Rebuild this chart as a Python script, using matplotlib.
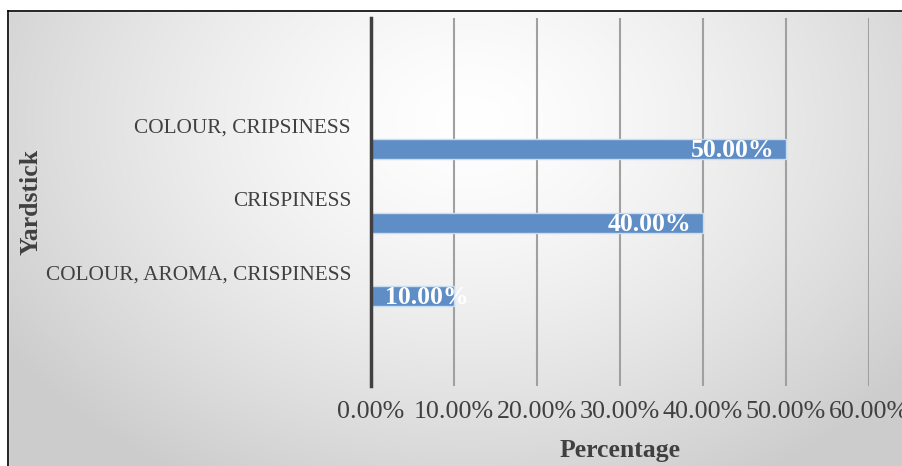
import numpy as np
import matplotlib
matplotlib.use("Agg")
import matplotlib.pyplot as plt
from matplotlib.patches import Rectangle

# data (bottom to top)
categories = ["COLOUR, AROMA, CRISPINESS", "CRISPINESS", "COLOUR, CRIPSINESS"]
values = [10.0, 40.0, 50.0]
ticks = [0, 10, 20, 30, 40, 50, 60]

plt.rcParams['font.family'] = ['Liberation Serif', 'DejaVu Serif']
txt = '#404040'
bar_col = '#5F8DC6'

fig = plt.figure(figsize=(9.03, 4.66), dpi=100)

# radial gradient background
bg = fig.add_axes([0, 0, 1, 1], zorder=-10)
xx, yy = np.meshgrid(np.linspace(0, 903, 400), np.linspace(0, 466, 200))
r = np.sqrt(((xx - 470) / 560) ** 2 + ((yy - 120) / 420) ** 2)
shade = 1.0 - 0.2 * np.clip(r, 0, 1) ** 1.4
bg.imshow(np.dstack([shade] * 3), extent=(0, 903, 466, 0), aspect='auto')
bg.set_xlim(0, 903)
bg.set_ylim(466, 0)
bg.axis('off')
# white margin above / left of the border
bg.add_patch(Rectangle((0, 0), 903, 11, color='white', zorder=2))
bg.add_patch(Rectangle((0, 0), 8, 466, color='white', zorder=2))
bg.plot([8, 903], [11, 11], color='black', lw=1.2, zorder=3)
bg.plot([8, 8], [11, 466], color='black', lw=1.2, zorder=3)

ax = fig.add_axes([371 / 903, 80 / 466, 498 / 903, 368 / 466])
ax.patch.set_alpha(0)
pos = np.arange(len(categories))
ax.barh(pos, values, height=0.27, color=bar_col, edgecolor='#C9DDF0', linewidth=1, zorder=3)

for p, v, c in zip(pos, values, categories):
    # label sits inside the bar end, but never starts left of the bar start
    ax.text(max(v - 11.5, 1.7), p - 0.02, f"{v:.2f}%", color='white', fontsize=18.5,
            fontweight='bold', ha='left', va='center', zorder=4)
    ax.text(-2.4, p + 0.29, c, color=txt, fontsize=15.3, ha='right', va='center')

ax.set_xlim(0, 60)
ax.set_ylim(-1.22, 3.78)
ax.set_xticks(ticks)
ax.set_xticklabels([f"{t:.2f}%" for t in ticks], fontsize=18.7, color=txt)
ax.set_yticks([])
ax.tick_params(axis='x', length=0, pad=11)
ax.grid(axis='x', color='#A0A0A0', lw=1.5, zorder=0)
for s in ['top', 'right', 'bottom']:
    ax.spines[s].set_visible(False)
ax.spines['left'].set_color('#404040')
ax.spines['left'].set_linewidth(2.5)
ax.spines['left'].set_zorder(5)

fig.text(620 / 903, 1 - 451 / 466, "Percentage", fontsize=18.5, fontweight='bold', color=txt,
         ha='center', va='center')
fig.text(31 / 903, 1 - 202 / 466, "Yardstick", fontsize=18.5, fontweight='bold', color=txt,
         ha='center', va='center', rotation=90)

fig.savefig("out.png", dpi=100)
